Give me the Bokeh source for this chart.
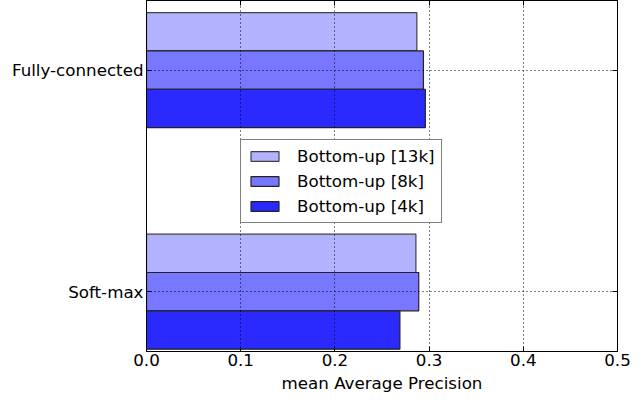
from bokeh.plotting import figure
from bokeh.models import (Range1d, FixedTicker, LinearAxis, Legend, LegendItem,
                          ColumnDataSource, CustomJSTickFormatter)
from bokeh.embed import file_html
from bokeh.resources import INLINE

categories = ["Fully-connected", "Soft-max"]
series_names = ["Bottom-up [13k]", "Bottom-up [8k]", "Bottom-up [4k]"]
vals_13k = [0.287, 0.286]
vals_8k = [0.294, 0.289]
vals_4k = [0.296, 0.269]
x_ticks = [0.0, 0.1, 0.2, 0.3, 0.4, 0.5]
x_tick_labels = ["0.0", "0.1", "0.2", "0.3", "0.4", "0.5"]

colors = ["#b2b2ff", "#7777ff", "#2a2aff"]
edges = ["#404040", "#222222", "#222222"]
FONT = "DejaVu Sans"
FS = "16.7px"

# category positions: first category on top
cat_pos = [len(categories) - 1 - i for i in range(len(categories))]
bar_h = 0.173
offsets = [bar_h, 0.0, -bar_h]

p = figure(width=633, height=395, output_backend="svg", toolbar_location=None,
           x_range=Range1d(0, 0.5), y_range=Range1d(-0.270, 1.314),
           min_border_left=146, min_border_right=16, min_border_top=0, min_border_bottom=0)
p.outline_line_color = "black"
p.outline_line_width = 1

renderers = []
for s, vals in enumerate([vals_13k, vals_8k, vals_4k]):
    src = ColumnDataSource(dict(y=[c + offsets[s] for c in cat_pos], right=vals))
    r = p.hbar(y="y", left=0, right="right", height=bar_h, source=src,
               fill_color=colors[s], line_color=edges[s], line_width=1.2)
    renderers.append(r)

# axes styling
xa = p.xaxis[0]
xa.ticker = FixedTicker(ticks=x_ticks)
xa.major_label_overrides = {t: l for t, l in zip(x_ticks, x_tick_labels)}
xa.axis_label = "mean Average Precision"
ya = p.yaxis[0]
ya.ticker = FixedTicker(ticks=cat_pos)
ya.major_label_overrides = {cp: c for cp, c in zip(cat_pos, categories)}

for ax in (xa, ya):
    ax.major_label_text_font = FONT
    ax.major_label_text_font_size = FS
    ax.major_label_text_color = "black"
    ax.axis_label_text_font = FONT
    ax.axis_label_text_font_size = FS
    ax.axis_label_text_font_style = "normal"
    ax.axis_label_text_color = "black"
    ax.major_tick_in = 5
    ax.major_tick_out = 0
    ax.minor_tick_line_color = None
    ax.axis_line_color = "black"
    ax.major_tick_line_color = "black"
xa.major_label_standoff = 2
xa.axis_label_standoff = 4
ya.major_label_standoff = 3

blank = CustomJSTickFormatter(code="return ''")
top = LinearAxis(ticker=FixedTicker(ticks=x_ticks), formatter=blank,
                 major_label_text_font_size="0px",
                 major_tick_in=5, major_tick_out=0, minor_tick_line_color=None,
                 major_label_standoff=0)
right = LinearAxis(ticker=FixedTicker(ticks=cat_pos), formatter=blank,
                   major_label_text_font_size="0px",
                   major_tick_in=5, major_tick_out=0, minor_tick_line_color=None,
                   major_label_standoff=0)
p.add_layout(top, "above")
p.add_layout(right, "right")

# grids: dotted black, drawn over bars
p.xgrid.ticker = FixedTicker(ticks=x_ticks)
p.ygrid.ticker = FixedTicker(ticks=cat_pos)
for g in (p.xgrid[0], p.ygrid[0]):
    g.grid_line_color = "black"
    g.grid_line_dash = "1 3"
    g.grid_line_width = 1
    g.level = "guide"

legend = Legend(items=[LegendItem(label=n, renderers=[r]) for n, r in zip(series_names, renderers)],
                location=(94, 128))
legend.label_text_font = FONT
legend.label_text_font_size = FS
legend.label_text_color = "black"
legend.glyph_width = 35
legend.glyph_height = 12
legend.label_standoff = 15
legend.spacing = 5
legend.padding = 6
legend.margin = 0
legend.border_line_color = "black"
legend.border_line_width = 1
legend.background_fill_color = "white"
legend.background_fill_alpha = 1
p.add_layout(legend, "center")

open("out.html", "w").write(file_html(p, INLINE))
